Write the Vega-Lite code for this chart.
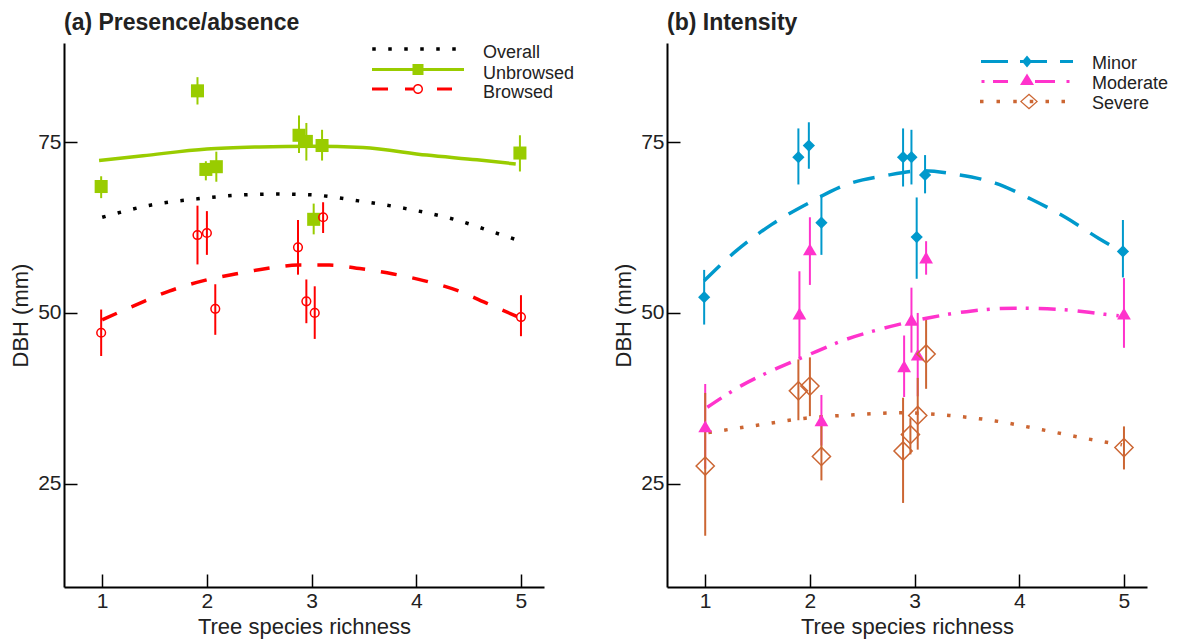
{
  "$schema": "https://vega.github.io/schema/vega-lite/v6.json",
  "padding": {"left": 9, "top": 12, "right": 5, "bottom": 5},
  "background": "white",
  "config": {
    "view": {"stroke": null},
    "font": "Liberation Sans",
    "axis": {"grid": false, "domainColor": "#000000", "domainWidth": 2, "tickColor": "#000000", "tickWidth": 1.5, "tickSize": -13, "labelFontSize": 21, "titleFontSize": 22, "labelColor": "#222222", "titleColor": "#222222", "titleFontWeight": "normal", "labelPadding": 16, "titlePadding": 5, "labelFont": "Liberation Sans", "titleFont": "Liberation Sans"},
    "legend": {"padding": 0, "labelFontSize": 18, "labelColor": "#222222", "labelFont": "Liberation Sans", "rowPadding": 2, "symbolStrokeWidth": 0, "symbolSize": 4}
  },
  "datasets": {
    "pa_points": [
      {"series": "Unbrowsed", "x": 0.99, "y": 68.5, "lo": 66.8, "hi": 70.0},
      {"series": "Unbrowsed", "x": 1.91, "y": 82.5, "lo": 80.5, "hi": 84.5},
      {"series": "Unbrowsed", "x": 1.99, "y": 71.0, "lo": 69.4, "hi": 72.2},
      {"series": "Unbrowsed", "x": 2.09, "y": 71.4, "lo": 69.2, "hi": 73.6},
      {"series": "Unbrowsed", "x": 2.88, "y": 76.0, "lo": 73.4, "hi": 78.9},
      {"series": "Unbrowsed", "x": 2.95, "y": 75.1, "lo": 72.3, "hi": 77.8},
      {"series": "Unbrowsed", "x": 3.10, "y": 74.5, "lo": 72.3, "hi": 76.8},
      {"series": "Unbrowsed", "x": 3.02, "y": 63.7, "lo": 61.5, "hi": 66.0},
      {"series": "Unbrowsed", "x": 4.99, "y": 73.4, "lo": 70.7, "hi": 76.0},
      {"series": "Browsed", "x": 0.99, "y": 47.1, "lo": 43.7, "hi": 50.5},
      {"series": "Browsed", "x": 1.91, "y": 61.4, "lo": 57.1, "hi": 65.7},
      {"series": "Browsed", "x": 2.00, "y": 61.7, "lo": 58.5, "hi": 64.9},
      {"series": "Browsed", "x": 2.08, "y": 50.6, "lo": 46.8, "hi": 54.2},
      {"series": "Browsed", "x": 2.87, "y": 59.6, "lo": 55.6, "hi": 63.6},
      {"series": "Browsed", "x": 2.95, "y": 51.7, "lo": 48.5, "hi": 54.9},
      {"series": "Browsed", "x": 3.03, "y": 50.0, "lo": 46.2, "hi": 53.9},
      {"series": "Browsed", "x": 3.11, "y": 64.0, "lo": 61.7, "hi": 66.2},
      {"series": "Browsed", "x": 5.00, "y": 49.4, "lo": 46.6, "hi": 52.6}
    ],
    "pa_curves": [
      {"series": "Overall", "x": 1.0, "y": 64.0},
      {"series": "Overall", "x": 1.47, "y": 65.8},
      {"series": "Overall", "x": 1.91, "y": 66.7},
      {"series": "Overall", "x": 2.38, "y": 67.3},
      {"series": "Overall", "x": 2.68, "y": 67.4},
      {"series": "Overall", "x": 2.98, "y": 67.3},
      {"series": "Overall", "x": 3.45, "y": 66.4},
      {"series": "Overall", "x": 3.89, "y": 65.3},
      {"series": "Overall", "x": 4.36, "y": 63.7},
      {"series": "Overall", "x": 4.80, "y": 61.5},
      {"series": "Overall", "x": 4.98, "y": 60.6},
      {"series": "Unbrowsed", "x": 0.97, "y": 72.3},
      {"series": "Unbrowsed", "x": 1.39, "y": 73.0},
      {"series": "Unbrowsed", "x": 2.0, "y": 74.0},
      {"series": "Unbrowsed", "x": 2.5, "y": 74.3},
      {"series": "Unbrowsed", "x": 3.0, "y": 74.4},
      {"series": "Unbrowsed", "x": 3.49, "y": 74.2},
      {"series": "Unbrowsed", "x": 4.10, "y": 73.1},
      {"series": "Unbrowsed", "x": 4.58, "y": 72.4},
      {"series": "Unbrowsed", "x": 4.95, "y": 71.8},
      {"series": "Browsed", "x": 1.0, "y": 49.0},
      {"series": "Browsed", "x": 1.34, "y": 51.3},
      {"series": "Browsed", "x": 1.64, "y": 53.2},
      {"series": "Browsed", "x": 1.96, "y": 54.7},
      {"series": "Browsed", "x": 2.27, "y": 55.7},
      {"series": "Browsed", "x": 2.57, "y": 56.5},
      {"series": "Browsed", "x": 2.87, "y": 57.0},
      {"series": "Browsed", "x": 3.17, "y": 57.0},
      {"series": "Browsed", "x": 3.46, "y": 56.5},
      {"series": "Browsed", "x": 3.78, "y": 55.7},
      {"series": "Browsed", "x": 4.08, "y": 54.7},
      {"series": "Browsed", "x": 4.39, "y": 53.3},
      {"series": "Browsed", "x": 4.69, "y": 51.3},
      {"series": "Browsed", "x": 4.96, "y": 49.5}
    ],
    "in_points": [
      {"series": "Minor", "x": 0.99, "y": 52.3, "lo": 48.3, "hi": 56.3},
      {"series": "Minor", "x": 1.89, "y": 72.8, "lo": 68.8, "hi": 77.0},
      {"series": "Minor", "x": 1.99, "y": 74.5, "lo": 71.1, "hi": 77.9},
      {"series": "Minor", "x": 2.11, "y": 63.2, "lo": 58.5, "hi": 67.3},
      {"series": "Minor", "x": 2.89, "y": 72.8, "lo": 68.5, "hi": 77.0},
      {"series": "Minor", "x": 2.97, "y": 72.8, "lo": 68.8, "hi": 76.8},
      {"series": "Minor", "x": 3.10, "y": 70.2, "lo": 67.5, "hi": 73.1},
      {"series": "Minor", "x": 3.02, "y": 61.1, "lo": 55.0, "hi": 66.9},
      {"series": "Minor", "x": 4.99, "y": 59.0, "lo": 55.2, "hi": 63.6},
      {"series": "Moderate", "x": 1.00, "y": 33.4, "lo": 27.2, "hi": 39.6},
      {"series": "Moderate", "x": 1.90, "y": 49.9, "lo": 43.3, "hi": 56.1},
      {"series": "Moderate", "x": 2.00, "y": 59.3, "lo": 54.1, "hi": 64.0},
      {"series": "Moderate", "x": 2.11, "y": 34.3, "lo": 30.6, "hi": 38.0},
      {"series": "Moderate", "x": 2.90, "y": 42.2, "lo": 37.7, "hi": 46.7},
      {"series": "Moderate", "x": 2.97, "y": 49.0, "lo": 44.2, "hi": 53.7},
      {"series": "Moderate", "x": 3.03, "y": 43.9, "lo": 37.8, "hi": 50.0},
      {"series": "Moderate", "x": 3.11, "y": 58.1, "lo": 55.6, "hi": 60.5},
      {"series": "Moderate", "x": 5.00, "y": 49.9, "lo": 44.9, "hi": 55.1},
      {"series": "Severe", "x": 1.00, "y": 27.6, "lo": 17.4, "hi": 38.3},
      {"series": "Severe", "x": 1.89, "y": 38.6, "lo": 34.3, "hi": 43.2},
      {"series": "Severe", "x": 2.00, "y": 39.3, "lo": 34.9, "hi": 43.5},
      {"series": "Severe", "x": 2.11, "y": 29.0, "lo": 25.5, "hi": 34.3},
      {"series": "Severe", "x": 2.89, "y": 29.8, "lo": 22.2, "hi": 37.6},
      {"series": "Severe", "x": 2.96, "y": 32.2, "lo": 29.3, "hi": 34.6},
      {"series": "Severe", "x": 3.03, "y": 35.0, "lo": 30.0, "hi": 40.5},
      {"series": "Severe", "x": 3.11, "y": 44.0, "lo": 38.9, "hi": 49.3},
      {"series": "Severe", "x": 5.00, "y": 30.3, "lo": 27.1, "hi": 33.4}
    ],
    "in_curves": [
      {"series": "Minor", "x": 0.99, "y": 54.7},
      {"series": "Minor", "x": 1.29, "y": 59.0},
      {"series": "Minor", "x": 1.64, "y": 63.0},
      {"series": "Minor", "x": 1.99, "y": 66.1},
      {"series": "Minor", "x": 2.37, "y": 68.9},
      {"series": "Minor", "x": 2.72, "y": 70.1},
      {"series": "Minor", "x": 3.07, "y": 70.8},
      {"series": "Minor", "x": 3.39, "y": 70.3},
      {"series": "Minor", "x": 3.77, "y": 69.0},
      {"series": "Minor", "x": 4.12, "y": 66.6},
      {"series": "Minor", "x": 4.44, "y": 64.0},
      {"series": "Minor", "x": 4.76, "y": 60.9},
      {"series": "Minor", "x": 4.94, "y": 59.3},
      {"series": "Moderate", "x": 1.02, "y": 36.2},
      {"series": "Moderate", "x": 1.35, "y": 39.4},
      {"series": "Moderate", "x": 1.70, "y": 42.0},
      {"series": "Moderate", "x": 1.96, "y": 43.7},
      {"series": "Moderate", "x": 2.34, "y": 46.1},
      {"series": "Moderate", "x": 2.69, "y": 47.7},
      {"series": "Moderate", "x": 3.14, "y": 49.3},
      {"series": "Moderate", "x": 3.55, "y": 50.3},
      {"series": "Moderate", "x": 3.96, "y": 50.7},
      {"series": "Moderate", "x": 4.41, "y": 50.5},
      {"series": "Moderate", "x": 4.82, "y": 49.8},
      {"series": "Moderate", "x": 4.95, "y": 49.6},
      {"series": "Severe", "x": 1.03, "y": 32.5},
      {"series": "Severe", "x": 1.51, "y": 33.6},
      {"series": "Severe", "x": 1.96, "y": 34.6},
      {"series": "Severe", "x": 2.42, "y": 35.1},
      {"series": "Severe", "x": 2.88, "y": 35.4},
      {"series": "Severe", "x": 3.33, "y": 35.0},
      {"series": "Severe", "x": 3.77, "y": 34.2},
      {"series": "Severe", "x": 4.22, "y": 32.9},
      {"series": "Severe", "x": 4.68, "y": 31.5},
      {"series": "Severe", "x": 4.98, "y": 30.7}
    ]
  },
  "bounds": "flush",
  "spacing": 123,
  "resolve": {"scale": {"shape": "independent", "fill": "independent"}, "legend": {"shape": "independent", "fill": "independent"}},
  "hconcat": [
    {
      "width": 480, "height": 544,
      "title": {"text": "(a) Presence/absence", "anchor": "start", "frame": "group", "fontSize": 23, "fontWeight": "bold", "offset": 8, "color": "#222222", "font": "Liberation Sans"},
      "encoding": {
        "x": {"field": "x", "type": "quantitative", "scale": {"domain": [0.635, 5.22], "nice": false, "zero": false}, "axis": {"title": "Tree species richness", "values": [1, 2, 3, 4, 5], "format": "d"}}
      },
      "layer": [
        {
          "data": {"name": "pa_points"},
          "transform": [{"filter": "datum.series === 'Unbrowsed'"}],
          "mark": {"type": "rule", "strokeWidth": 2, "color": "#99cc00"},
          "encoding": {
            "y": {"field": "lo", "type": "quantitative", "scale": {"domain": [9.9, 89.5], "nice": false, "zero": false}, "axis": {"title": "DBH (mm)", "values": [25, 50, 75]}},
            "y2": {"field": "hi"}
          }
        },
        {
          "data": {"name": "pa_points"},
          "transform": [{"filter": "datum.series === 'Browsed'"}],
          "mark": {"type": "rule", "strokeWidth": 2, "color": "#ff0000"},
          "encoding": {
            "y": {"field": "lo", "type": "quantitative", "axis": {"title": "DBH (mm)", "values": [25, 50, 75]}},
            "y2": {"field": "hi"}
          }
        },
        {
          "data": {"name": "pa_curves"},
          "transform": [{"filter": "datum.series === 'Overall'"}],
          "mark": {"type": "line", "strokeWidth": 3.5, "strokeCap": "butt", "interpolate": "monotone", "color": "#000000", "strokeDash": [3.5, 12.5]},
          "encoding": {"y": {"field": "y", "type": "quantitative", "axis": {"title": "DBH (mm)", "values": [25, 50, 75]}}}
        },
        {
          "data": {"name": "pa_curves"},
          "transform": [{"filter": "datum.series === 'Unbrowsed'"}],
          "mark": {"type": "line", "strokeWidth": 3.5, "strokeCap": "butt", "interpolate": "monotone", "color": "#99cc00"},
          "encoding": {"y": {"field": "y", "type": "quantitative", "axis": {"title": "DBH (mm)", "values": [25, 50, 75]}}}
        },
        {
          "data": {"name": "pa_curves"},
          "transform": [{"filter": "datum.series === 'Browsed'"}],
          "mark": {"type": "line", "strokeWidth": 3.5, "strokeCap": "butt", "interpolate": "monotone", "color": "#ff0000", "strokeDash": [16, 16]},
          "encoding": {"y": {"field": "y", "type": "quantitative", "axis": {"title": "DBH (mm)", "values": [25, 50, 75]}}}
        },
        {
          "data": {"name": "pa_points"},
          "transform": [{"filter": "datum.series === 'Unbrowsed'"}],
          "mark": {"type": "point", "shape": "square", "filled": true, "size": 170, "color": "#99cc00", "opacity": 1},
          "encoding": {"y": {"field": "y", "type": "quantitative", "axis": {"title": "DBH (mm)", "values": [25, 50, 75]}}}
        },
        {
          "data": {"name": "pa_points"},
          "transform": [{"filter": "datum.series === 'Browsed'"}],
          "mark": {"type": "point", "shape": "circle", "filled": false, "size": 75, "strokeWidth": 1.5, "color": "#ff0000", "opacity": 1},
          "encoding": {"y": {"field": "y", "type": "quantitative", "axis": {"title": "DBH (mm)", "values": [25, 50, 75]}}}
        },
        {
          "data": {"name": "pa_curves"},
          "transform": [{"filter": "false"}],
          "mark": {"type": "point", "filled": true, "size": 4, "strokeWidth": 0, "opacity": 1},
          "encoding": {
            "shape": {"field": "series", "type": "nominal",
              "scale": {"domain": ["Overall", "Unbrowsed", "Browsed"], "range": [
                "M-45.75,-5.75h3.5v3.5h-3.5Z M-29.75,-5.75h3.5v3.5h-3.5Z M-13.75,-5.75h3.5v3.5h-3.5Z M2.25,-5.75h3.5v3.5h-3.5Z M18.25,-5.75h3.5v3.5h-3.5Z M34.25,-5.75h3.5v3.5h-3.5Z",
                "M-46,-5.5h92v3h-92Z M-5.5,-9.5h11v11h-11Z",
                "M-46,-5.5h16v3h-16Z M-13,-5.5h8v3h-8Z M19,-5.5h15v3h-15Z M-5,-4A5,5 0 1 1 5,-4A5,5 0 1 1 -5,-4Z M-3.6,-4A3.6,3.6 0 1 0 3.6,-4A3.6,3.6 0 1 0 -3.6,-4Z"
              ]},
              "legend": {"orient": "none", "legendX": 345, "legendY": 1, "title": null, "labelOffset": 56, "symbolSize": 4, "symbolStrokeWidth": 0, "rowPadding": 1.5}
            },
            "fill": {"field": "series", "type": "nominal",
              "scale": {"domain": ["Overall", "Unbrowsed", "Browsed"], "range": ["#000000", "#99cc00", "#ff0000"]},
              "legend": {"orient": "none", "legendX": 345, "legendY": 1, "title": null, "labelOffset": 56, "symbolSize": 4, "symbolStrokeWidth": 0, "rowPadding": 1.5}
            }
          }
        }
      ]
    },
    {
      "width": 480, "height": 544,
      "title": {"text": "(b) Intensity", "anchor": "start", "frame": "group", "fontSize": 23, "fontWeight": "bold", "offset": 8, "color": "#222222", "font": "Liberation Sans"},
      "encoding": {
        "x": {"field": "x", "type": "quantitative", "scale": {"domain": [0.635, 5.22], "nice": false, "zero": false}, "axis": {"title": "Tree species richness", "values": [1, 2, 3, 4, 5], "format": "d"}}
      },
      "layer": [
        {
          "data": {"name": "in_points"},
          "transform": [{"filter": "datum.series === 'Minor'"}],
          "mark": {"type": "rule", "strokeWidth": 2, "color": "#0099cc"},
          "encoding": {
            "y": {"field": "lo", "type": "quantitative", "scale": {"domain": [9.9, 89.5], "nice": false, "zero": false}, "axis": {"title": "DBH (mm)", "values": [25, 50, 75]}},
            "y2": {"field": "hi"}
          }
        },
        {
          "data": {"name": "in_points"},
          "transform": [{"filter": "datum.series === 'Moderate'"}],
          "mark": {"type": "rule", "strokeWidth": 2, "color": "#ff33cc"},
          "encoding": {
            "y": {"field": "lo", "type": "quantitative", "axis": {"title": "DBH (mm)", "values": [25, 50, 75]}},
            "y2": {"field": "hi"}
          }
        },
        {
          "data": {"name": "in_points"},
          "transform": [{"filter": "datum.series === 'Severe'"}],
          "mark": {"type": "rule", "strokeWidth": 2, "color": "#cc6633"},
          "encoding": {
            "y": {"field": "lo", "type": "quantitative", "axis": {"title": "DBH (mm)", "values": [25, 50, 75]}},
            "y2": {"field": "hi"}
          }
        },
        {
          "data": {"name": "in_curves"},
          "transform": [{"filter": "datum.series === 'Minor'"}],
          "mark": {"type": "line", "strokeWidth": 3.5, "strokeCap": "butt", "interpolate": "monotone", "color": "#0099cc", "strokeDash": [22, 14]},
          "encoding": {"y": {"field": "y", "type": "quantitative", "axis": {"title": "DBH (mm)", "values": [25, 50, 75]}}}
        },
        {
          "data": {"name": "in_curves"},
          "transform": [{"filter": "datum.series === 'Moderate'"}],
          "mark": {"type": "line", "strokeWidth": 3.5, "strokeCap": "butt", "interpolate": "monotone", "color": "#ff33cc", "strokeDash": [17, 9, 3, 10]},
          "encoding": {"y": {"field": "y", "type": "quantitative", "axis": {"title": "DBH (mm)", "values": [25, 50, 75]}}}
        },
        {
          "data": {"name": "in_curves"},
          "transform": [{"filter": "datum.series === 'Severe'"}],
          "mark": {"type": "line", "strokeWidth": 3.5, "strokeCap": "butt", "interpolate": "monotone", "color": "#cc6633", "strokeDash": [3.5, 12.5]},
          "encoding": {"y": {"field": "y", "type": "quantitative", "axis": {"title": "DBH (mm)", "values": [25, 50, 75]}}}
        },
        {
          "data": {"name": "in_points"},
          "transform": [{"filter": "datum.series === 'Minor'"}],
          "mark": {"type": "point", "shape": "diamond", "filled": true, "size": 150, "color": "#0099cc", "opacity": 1},
          "encoding": {"y": {"field": "y", "type": "quantitative", "axis": {"title": "DBH (mm)", "values": [25, 50, 75]}}}
        },
        {
          "data": {"name": "in_points"},
          "transform": [{"filter": "datum.series === 'Moderate'"}],
          "mark": {"type": "point", "shape": "triangle-up", "filled": true, "size": 190, "color": "#ff33cc", "opacity": 1},
          "encoding": {"y": {"field": "y", "type": "quantitative", "axis": {"title": "DBH (mm)", "values": [25, 50, 75]}}}
        },
        {
          "data": {"name": "in_points"},
          "transform": [{"filter": "datum.series === 'Severe'"}],
          "mark": {"type": "point", "shape": "diamond", "filled": false, "size": 330, "strokeWidth": 1.5, "color": "#cc6633", "opacity": 1},
          "encoding": {"y": {"field": "y", "type": "quantitative", "axis": {"title": "DBH (mm)", "values": [25, 50, 75]}}}
        },
        {
          "data": {"name": "in_curves"},
          "transform": [{"filter": "false"}],
          "mark": {"type": "point", "filled": true, "size": 4, "strokeWidth": 0, "opacity": 1},
          "encoding": {
            "shape": {"field": "series", "type": "nominal",
              "scale": {"domain": ["Minor", "Moderate", "Severe"], "range": [
                "M-46,-4h27v3h-27Z M-7,-4h27v3h-27Z M33,-4h13v3h-13Z M0,-8.5L5,-2.5L0,3.5L-5,-2.5Z",
                "M-45.5,-4h3v3h-3Z M-34,-4h15v3h-15Z M-7,1L0,-10.5L7,1Z M8,-4h20v3h-20Z M39.5,-4h3v3h-3Z",
                "M-47,-4.25h3.5v3.5h-3.5Z M-30.5,-4.25h3.5v3.5h-3.5Z M-13.75,-4.25h3.5v3.5h-3.5Z M2.75,-4.25h3.5v3.5h-3.5Z M18.5,-4.25h3.5v3.5h-3.5Z M34.5,-4.25h3.5v3.5h-3.5Z M2,-10.5L11,-2.5L2,5.5L-7,-2.5Z M2,-8.8L-5.2,-2.5L2,3.8L9.2,-2.5Z"
              ]},
              "legend": {"orient": "none", "legendX": 351, "legendY": 12, "title": null, "labelOffset": 56, "symbolSize": 4, "symbolStrokeWidth": 0, "rowPadding": 0}
            },
            "fill": {"field": "series", "type": "nominal",
              "scale": {"domain": ["Minor", "Moderate", "Severe"], "range": ["#0099cc", "#ff33cc", "#cc6633"]},
              "legend": {"orient": "none", "legendX": 351, "legendY": 12, "title": null, "labelOffset": 56, "symbolSize": 4, "symbolStrokeWidth": 0, "rowPadding": 0}
            }
          }
        }
      ]
    }
  ]
}
